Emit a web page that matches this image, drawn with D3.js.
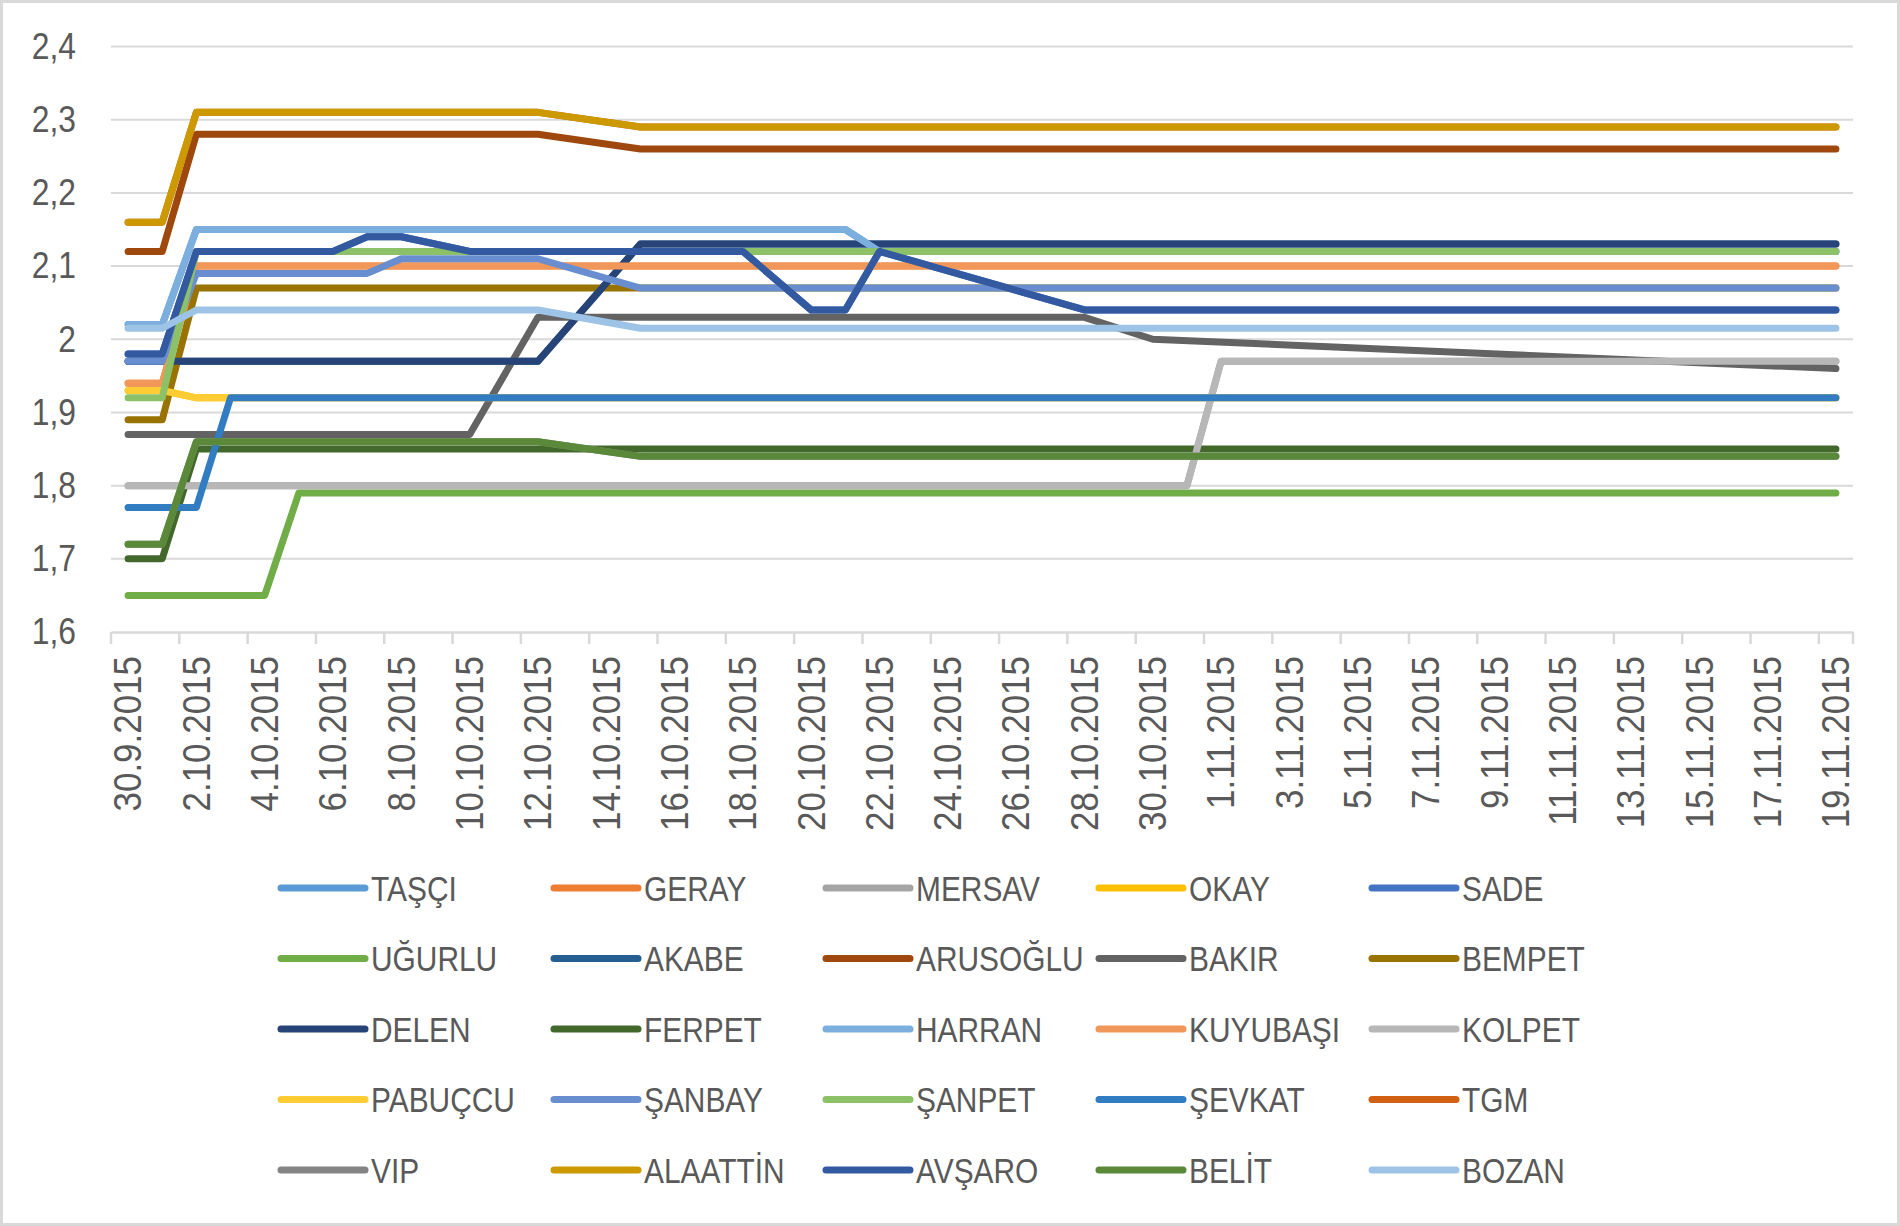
<!DOCTYPE html>
<meta charset="utf-8">
<script src="https://d3js.org/d3.v7.min.js"></script>
<style>
body { margin: 0; background: #fff; }
text { font-family: "Liberation Sans", Arial, sans-serif; fill: #595959; }
</style>
<body>
<div id="chart"></div>
<script>

// categories: one per day, 30.9.2015 .. 19.11.2015
var days = [
  "30.9.2015", "1.10.2015", "2.10.2015", "3.10.2015", "4.10.2015", "5.10.2015", "6.10.2015", "7.10.2015", "8.10.2015", "9.10.2015",
  "10.10.2015", "11.10.2015", "12.10.2015", "13.10.2015", "14.10.2015", "15.10.2015", "16.10.2015", "17.10.2015", "18.10.2015", "19.10.2015",
  "20.10.2015", "21.10.2015", "22.10.2015", "23.10.2015", "24.10.2015", "25.10.2015", "26.10.2015", "27.10.2015", "28.10.2015", "29.10.2015",
  "30.10.2015", "31.10.2015", "1.11.2015", "2.11.2015", "3.11.2015", "4.11.2015", "5.11.2015", "6.11.2015", "7.11.2015", "8.11.2015",
  "9.11.2015", "10.11.2015", "11.11.2015", "12.11.2015", "13.11.2015", "14.11.2015", "15.11.2015", "16.11.2015", "17.11.2015", "18.11.2015", "19.11.2015"
];

var yTicks = [1.6, 1.7, 1.8, 1.9, 2.0, 2.1, 2.2, 2.3, 2.4];
var yLabels = ["1,6", "1,7", "1,8", "1,9", "2", "2,1", "2,2", "2,3", "2,4"];

var names = ["TAŞÇI", "GERAY", "MERSAV", "OKAY", "SADE",
             "UĞURLU", "AKABE", "ARUSOĞLU", "BAKIR", "BEMPET",
             "DELEN", "FERPET", "HARRAN", "KUYUBAŞI", "KOLPET",
             "PABUÇCU", "ŞANBAY", "ŞANPET", "ŞEVKAT", "TGM",
             "VIP", "ALAATTİN", "AVŞARO", "BELİT", "BOZAN"];

var colors = ["#5B9BD5", "#ED7D31", "#A5A5A5", "#FFC000", "#4472C4",
              "#70AD47", "#255E91", "#9E480E", "#636363", "#997300",
              "#264478", "#43682B", "#7CAFDD", "#F1975A", "#B7B7B7",
              "#FFCD33", "#698ED0", "#8CC168", "#327DC2", "#D26012",
              "#848484", "#CC9A00", "#335AA1", "#5A8A39", "#9DC3E6"];

// series values (null = no observation that day)
var tasci = [2.02, 2.02, 2.15, 2.15, 2.15, 2.15, 2.15, 2.15, 2.15, 2.15,
  2.15, 2.15, 2.15, 2.15, 2.15, 2.15, 2.15, 2.15, 2.15, 2.15,
  2.15, 2.15, 2.12, 2.12, 2.12, 2.12, 2.12, 2.12, 2.12, 2.12,
  2.12, 2.12, 2.12, 2.12, 2.12, 2.12, 2.12, 2.12, 2.12, 2.12,
  2.12, 2.12, 2.12, 2.12, 2.12, 2.12, 2.12, 2.12, 2.12, 2.12, 2.12];
var geray = [1.94, 1.94, 2.10, 2.10, 2.10, 2.10, 2.10, 2.10, 2.10, 2.10,
  2.10, 2.10, 2.10, 2.10, 2.10, 2.10, 2.10, 2.10, 2.10, 2.10,
  2.10, 2.10, 2.10, 2.10, 2.10, 2.10, 2.10, 2.10, 2.10, 2.10,
  2.10, 2.10, 2.10, 2.10, 2.10, 2.10, 2.10, 2.10, 2.10, 2.10,
  2.10, 2.10, 2.10, 2.10, 2.10, 2.10, 2.10, 2.10, 2.10, 2.10, 2.10];
var mersav = [1.80, 1.80, 1.80, 1.80, 1.80, 1.80, 1.80, 1.80, 1.80, 1.80,
  1.80, 1.80, 1.80, 1.80, 1.80, 1.80, 1.80, 1.80, 1.80, 1.80,
  1.80, 1.80, 1.80, 1.80, 1.80, 1.80, 1.80, 1.80, 1.80, 1.80,
  1.80, 1.80, 1.97, 1.97, 1.97, 1.97, 1.97, 1.97, 1.97, 1.97,
  1.97, 1.97, 1.97, 1.97, 1.97, 1.97, 1.97, 1.97, 1.97, 1.97, 1.97];
var okay = [1.93, 1.93, 1.92, 1.92, 1.92, 1.92, 1.92, 1.92, 1.92, 1.92,
  1.92, 1.92, 1.92, 1.92, 1.92, 1.92, 1.92, 1.92, 1.92, 1.92,
  1.92, 1.92, 1.92, 1.92, 1.92, 1.92, 1.92, 1.92, 1.92, 1.92,
  1.92, 1.92, 1.92, 1.92, 1.92, 1.92, 1.92, 1.92, 1.92, 1.92,
  1.92, 1.92, 1.92, 1.92, 1.92, 1.92, 1.92, 1.92, 1.92, 1.92, 1.92];
var sade = [1.98, 1.98, 2.12, 2.12, 2.12, 2.12, 2.12, 2.14, 2.14, null,
  2.12, 2.12, 2.12, 2.12, 2.12, 2.12, 2.12, 2.12, 2.12, null,
  2.04, 2.04, 2.12, null, null, null, null, null, 2.04, 2.04,
  2.04, 2.04, 2.04, 2.04, 2.04, 2.04, 2.04, 2.04, 2.04, 2.04,
  2.04, 2.04, 2.04, 2.04, 2.04, 2.04, 2.04, 2.04, 2.04, 2.04, 2.04];
var ugurlu = [1.65, 1.65, 1.65, 1.65, 1.65, 1.79, 1.79, 1.79, 1.79, 1.79,
  1.79, 1.79, 1.79, 1.79, 1.79, 1.79, 1.79, 1.79, 1.79, 1.79,
  1.79, 1.79, 1.79, 1.79, 1.79, 1.79, 1.79, 1.79, 1.79, 1.79,
  1.79, 1.79, 1.79, 1.79, 1.79, 1.79, 1.79, 1.79, 1.79, 1.79,
  1.79, 1.79, 1.79, 1.79, 1.79, 1.79, 1.79, 1.79, 1.79, 1.79, 1.79];
var akabe = [1.97, 1.97, 1.97, 1.97, 1.97, 1.97, 1.97, 1.97, 1.97, 1.97,
  1.97, 1.97, 1.97, null, null, 2.13, 2.13, 2.13, 2.13, 2.13,
  2.13, 2.13, 2.13, 2.13, 2.13, 2.13, 2.13, 2.13, 2.13, 2.13,
  2.13, 2.13, 2.13, 2.13, 2.13, 2.13, 2.13, 2.13, 2.13, 2.13,
  2.13, 2.13, 2.13, 2.13, 2.13, 2.13, 2.13, 2.13, 2.13, 2.13, 2.13];
var arusoglu = [2.12, 2.12, 2.28, 2.28, 2.28, 2.28, 2.28, 2.28, 2.28, 2.28,
  2.28, 2.28, 2.28, null, null, 2.26, 2.26, 2.26, 2.26, 2.26,
  2.26, 2.26, 2.26, 2.26, 2.26, 2.26, 2.26, 2.26, 2.26, 2.26,
  2.26, 2.26, 2.26, 2.26, 2.26, 2.26, 2.26, 2.26, 2.26, 2.26,
  2.26, 2.26, 2.26, 2.26, 2.26, 2.26, 2.26, 2.26, 2.26, 2.26, 2.26];
var bakir = [1.87, 1.87, 1.87, 1.87, 1.87, 1.87, 1.87, 1.87, 1.87, 1.87,
  1.87, null, 2.03, 2.03, 2.03, 2.03, 2.03, 2.03, 2.03, 2.03,
  2.03, 2.03, 2.03, 2.03, 2.03, 2.03, 2.03, 2.03, 2.03, null,
  2.00, null, null, null, null, null, null, null, null, null,
  null, null, null, null, null, null, null, null, null, null, 1.96];
var bempet = [1.89, 1.89, 2.07, 2.07, 2.07, 2.07, 2.07, 2.07, 2.07, 2.07,
  2.07, 2.07, 2.07, 2.07, 2.07, 2.07, 2.07, 2.07, 2.07, 2.07,
  2.07, 2.07, 2.07, 2.07, 2.07, 2.07, 2.07, 2.07, 2.07, 2.07,
  2.07, 2.07, 2.07, 2.07, 2.07, 2.07, 2.07, 2.07, 2.07, 2.07,
  2.07, 2.07, 2.07, 2.07, 2.07, 2.07, 2.07, 2.07, 2.07, 2.07, 2.07];
var delen = [1.97, 1.97, 1.97, 1.97, 1.97, 1.97, 1.97, 1.97, 1.97, 1.97,
  1.97, 1.97, 1.97, null, null, 2.13, 2.13, 2.13, 2.13, 2.13,
  2.13, 2.13, 2.13, 2.13, 2.13, 2.13, 2.13, 2.13, 2.13, 2.13,
  2.13, 2.13, 2.13, 2.13, 2.13, 2.13, 2.13, 2.13, 2.13, 2.13,
  2.13, 2.13, 2.13, 2.13, 2.13, 2.13, 2.13, 2.13, 2.13, 2.13, 2.13];
var ferpet = [1.70, 1.70, 1.85, 1.85, 1.85, 1.85, 1.85, 1.85, 1.85, 1.85,
  1.85, 1.85, 1.85, 1.85, 1.85, 1.85, 1.85, 1.85, 1.85, 1.85,
  1.85, 1.85, 1.85, 1.85, 1.85, 1.85, 1.85, 1.85, 1.85, 1.85,
  1.85, 1.85, 1.85, 1.85, 1.85, 1.85, 1.85, 1.85, 1.85, 1.85,
  1.85, 1.85, 1.85, 1.85, 1.85, 1.85, 1.85, 1.85, 1.85, 1.85, 1.85];
var harran = [2.02, 2.02, 2.15, 2.15, 2.15, 2.15, 2.15, 2.15, 2.15, 2.15,
  2.15, 2.15, 2.15, 2.15, 2.15, 2.15, 2.15, 2.15, 2.15, 2.15,
  2.15, 2.15, 2.12, 2.12, 2.12, 2.12, 2.12, 2.12, 2.12, 2.12,
  2.12, 2.12, 2.12, 2.12, 2.12, 2.12, 2.12, 2.12, 2.12, 2.12,
  2.12, 2.12, 2.12, 2.12, 2.12, 2.12, 2.12, 2.12, 2.12, 2.12, 2.12];
var kuyubasi = [1.94, 1.94, 2.10, 2.10, 2.10, 2.10, 2.10, 2.10, 2.10, 2.10,
  2.10, 2.10, 2.10, 2.10, 2.10, 2.10, 2.10, 2.10, 2.10, 2.10,
  2.10, 2.10, 2.10, 2.10, 2.10, 2.10, 2.10, 2.10, 2.10, 2.10,
  2.10, 2.10, 2.10, 2.10, 2.10, 2.10, 2.10, 2.10, 2.10, 2.10,
  2.10, 2.10, 2.10, 2.10, 2.10, 2.10, 2.10, 2.10, 2.10, 2.10, 2.10];
var kolpet = [1.80, 1.80, 1.80, 1.80, 1.80, 1.80, 1.80, 1.80, 1.80, 1.80,
  1.80, 1.80, 1.80, 1.80, 1.80, 1.80, 1.80, 1.80, 1.80, 1.80,
  1.80, 1.80, 1.80, 1.80, 1.80, 1.80, 1.80, 1.80, 1.80, 1.80,
  1.80, 1.80, 1.97, 1.97, 1.97, 1.97, 1.97, 1.97, 1.97, 1.97,
  1.97, 1.97, 1.97, 1.97, 1.97, 1.97, 1.97, 1.97, 1.97, 1.97, 1.97];
var pabuccu = [1.93, 1.93, 1.92, 1.92, 1.92, 1.92, 1.92, 1.92, 1.92, 1.92,
  1.92, 1.92, 1.92, 1.92, 1.92, 1.92, 1.92, 1.92, 1.92, 1.92,
  1.92, 1.92, 1.92, 1.92, 1.92, 1.92, 1.92, 1.92, 1.92, 1.92,
  1.92, 1.92, 1.92, 1.92, 1.92, 1.92, 1.92, 1.92, 1.92, 1.92,
  1.92, 1.92, 1.92, 1.92, 1.92, 1.92, 1.92, 1.92, 1.92, 1.92, 1.92];
var sanbay = [1.97, 1.97, 2.09, 2.09, 2.09, 2.09, 2.09, 2.09, 2.11, 2.11,
  2.11, 2.11, 2.11, null, null, 2.07, 2.07, 2.07, 2.07, 2.07,
  2.07, 2.07, 2.07, 2.07, 2.07, 2.07, 2.07, 2.07, 2.07, 2.07,
  2.07, 2.07, 2.07, 2.07, 2.07, 2.07, 2.07, 2.07, 2.07, 2.07,
  2.07, 2.07, 2.07, 2.07, 2.07, 2.07, 2.07, 2.07, 2.07, 2.07, 2.07];
var sanpet = [1.92, 1.92, 2.12, 2.12, 2.12, 2.12, 2.12, 2.12, 2.12, 2.12,
  2.12, 2.12, 2.12, 2.12, 2.12, 2.12, 2.12, 2.12, 2.12, 2.12,
  2.12, 2.12, 2.12, 2.12, 2.12, 2.12, 2.12, 2.12, 2.12, 2.12,
  2.12, 2.12, 2.12, 2.12, 2.12, 2.12, 2.12, 2.12, 2.12, 2.12,
  2.12, 2.12, 2.12, 2.12, 2.12, 2.12, 2.12, 2.12, 2.12, 2.12, 2.12];
var sevkat = [1.77, 1.77, 1.77, 1.92, 1.92, 1.92, 1.92, 1.92, 1.92, 1.92,
  1.92, 1.92, 1.92, 1.92, 1.92, 1.92, 1.92, 1.92, 1.92, 1.92,
  1.92, 1.92, 1.92, 1.92, 1.92, 1.92, 1.92, 1.92, 1.92, 1.92,
  1.92, 1.92, 1.92, 1.92, 1.92, 1.92, 1.92, 1.92, 1.92, 1.92,
  1.92, 1.92, 1.92, 1.92, 1.92, 1.92, 1.92, 1.92, 1.92, 1.92, 1.92];
var tgm = [2.16, 2.16, 2.31, 2.31, 2.31, 2.31, 2.31, 2.31, 2.31, 2.31,
  2.31, 2.31, 2.31, null, null, 2.29, 2.29, 2.29, 2.29, 2.29,
  2.29, 2.29, 2.29, 2.29, 2.29, 2.29, 2.29, 2.29, 2.29, 2.29,
  2.29, 2.29, 2.29, 2.29, 2.29, 2.29, 2.29, 2.29, 2.29, 2.29,
  2.29, 2.29, 2.29, 2.29, 2.29, 2.29, 2.29, 2.29, 2.29, 2.29, 2.29];
var vip = [1.72, 1.72, 1.86, 1.86, 1.86, 1.86, 1.86, 1.86, 1.86, 1.86,
  1.86, 1.86, 1.86, null, null, 1.84, 1.84, 1.84, 1.84, 1.84,
  1.84, 1.84, 1.84, 1.84, 1.84, 1.84, 1.84, 1.84, 1.84, 1.84,
  1.84, 1.84, 1.84, 1.84, 1.84, 1.84, 1.84, 1.84, 1.84, 1.84,
  1.84, 1.84, 1.84, 1.84, 1.84, 1.84, 1.84, 1.84, 1.84, 1.84, 1.84];
var alaattin = [2.16, 2.16, 2.31, 2.31, 2.31, 2.31, 2.31, 2.31, 2.31, 2.31,
  2.31, 2.31, 2.31, null, null, 2.29, 2.29, 2.29, 2.29, 2.29,
  2.29, 2.29, 2.29, 2.29, 2.29, 2.29, 2.29, 2.29, 2.29, 2.29,
  2.29, 2.29, 2.29, 2.29, 2.29, 2.29, 2.29, 2.29, 2.29, 2.29,
  2.29, 2.29, 2.29, 2.29, 2.29, 2.29, 2.29, 2.29, 2.29, 2.29, 2.29];
var avsaro = [1.98, 1.98, 2.12, 2.12, 2.12, 2.12, 2.12, 2.14, 2.14, null,
  2.12, 2.12, 2.12, 2.12, 2.12, 2.12, 2.12, 2.12, 2.12, null,
  2.04, 2.04, 2.12, null, null, null, null, null, 2.04, 2.04,
  2.04, 2.04, 2.04, 2.04, 2.04, 2.04, 2.04, 2.04, 2.04, 2.04,
  2.04, 2.04, 2.04, 2.04, 2.04, 2.04, 2.04, 2.04, 2.04, 2.04, 2.04];
var belit = [1.72, 1.72, 1.86, 1.86, 1.86, 1.86, 1.86, 1.86, 1.86, 1.86,
  1.86, 1.86, 1.86, null, null, 1.84, 1.84, 1.84, 1.84, 1.84,
  1.84, 1.84, 1.84, 1.84, 1.84, 1.84, 1.84, 1.84, 1.84, 1.84,
  1.84, 1.84, 1.84, 1.84, 1.84, 1.84, 1.84, 1.84, 1.84, 1.84,
  1.84, 1.84, 1.84, 1.84, 1.84, 1.84, 1.84, 1.84, 1.84, 1.84, 1.84];
var bozan = [2.015, 2.015, 2.04, 2.04, 2.04, 2.04, 2.04, 2.04, 2.04, 2.04,
  2.04, 2.04, 2.04, null, null, 2.015, 2.015, 2.015, 2.015, 2.015,
  2.015, 2.015, 2.015, 2.015, 2.015, 2.015, 2.015, 2.015, 2.015, 2.015,
  2.015, 2.015, 2.015, 2.015, 2.015, 2.015, 2.015, 2.015, 2.015, 2.015,
  2.015, 2.015, 2.015, 2.015, 2.015, 2.015, 2.015, 2.015, 2.015, 2.015, 2.015];

var values = [tasci, geray, mersav, okay, sade,
              ugurlu, akabe, arusoglu, bakir, bempet,
              delen, ferpet, harran, kuyubasi, kolpet,
              pabuccu, sanbay, sanpet, sevkat, tgm,
              vip, alaattin, avsaro, belit, bozan];

var series = names.map(function(n, i) {
  return {name: n, color: colors[i], values: values[i]};
});

var width = 1900, height = 1226;
var plot = {left: 111, right: 1853, top: 46.5, bottom: 632};
// the reference font is narrower than Liberation Sans, so text is squeezed horizontally
var squeeze = 0.83;

var svg = d3.select("#chart")
  .append("svg")
  .attr("width", width)
  .attr("height", height);

svg.append("rect")
  .attr("x", 1.5).attr("y", 1.5)
  .attr("width", width - 3).attr("height", height - 3)
  .attr("fill", "#fff")
  .attr("stroke", "#d9d9d9")
  .attr("stroke-width", 3);

var x = d3.scaleBand()
  .domain(days)
  .range([plot.left, plot.right]);

var y = d3.scaleLinear()
  .domain([1.6, 2.4])
  .range([plot.bottom, plot.top]);

// gridlines
svg.append("g")
  .selectAll("line")
  .data(yTicks.slice(1))
  .enter()
  .append("line")
    .attr("x1", plot.left)
    .attr("x2", plot.right)
    .attr("y1", function(d) { return y(d); })
    .attr("y2", function(d) { return y(d); })
    .attr("stroke", "#d9d9d9")
    .attr("stroke-width", 2);

// y axis labels
var yAxis = svg.append("g")
  .attr("transform", "translate(" + plot.left + ",0)")
  .call(d3.axisLeft(y)
    .tickValues(yTicks)
    .tickFormat(function(d, i) { return yLabels[i]; })
    .tickSize(0));
yAxis.select(".domain").remove();
yAxis.selectAll("text")
  .style("font-size", "37px")
  .attr("fill", "#595959")
  .attr("x", -35 / 0.86)
  .attr("transform", "scale(0.86,1)");

// x axis
var xScale = 0.92;
var xAxis = svg.append("g")
  .attr("transform", "translate(0," + plot.bottom + ")")
  .call(d3.axisBottom(x)
    .tickValues(days.filter(function(d, i) { return i % 2 === 0; }))
    .tickSize(0));
xAxis.select(".domain")
  .attr("stroke", "#d9d9d9")
  .attr("stroke-width", 2.5);
xAxis.selectAll("text")
  .style("font-size", "38px")
  .attr("fill", "#595959")
  .attr("transform", "rotate(-90) scale(" + xScale + ",1)")
  .attr("text-anchor", "end")
  .attr("x", -24 / xScale)
  .attr("y", 0)
  .attr("dy", "0.35em");

// tick marks between every second category
var tickPos = days.filter(function(d, i) { return i % 2 === 0; }).map(function(d) { return x(d); });
tickPos.push(plot.right);
xAxis.selectAll(".tickmark")
  .data(tickPos)
  .enter()
  .append("line")
    .attr("class", "tickmark")
    .attr("x1", function(d) { return d; })
    .attr("x2", function(d) { return d; })
    .attr("y1", 0)
    .attr("y2", 12)
    .attr("stroke", "#d9d9d9")
    .attr("stroke-width", 2.5);

// lines
var line = d3.line()
  .x(function(p) { return x(days[p.i]) + x.bandwidth() / 2; })
  .y(function(p) { return y(p.v); });

svg.append("g")
  .selectAll("path")
  .data(series)
  .enter()
  .append("path")
    .attr("fill", "none")
    .attr("stroke", function(d) { return d.color; })
    .attr("stroke-width", 7)
    .attr("stroke-linejoin", "round")
    .attr("stroke-linecap", "round")
    .attr("d", function(d) {
      var pts = d.values
        .map(function(v, i) { return {i: i, v: v}; })
        .filter(function(p) { return p.v !== null; });
      return line(pts);
    });

// legend, 5 columns
var legendX = [281, 554, 826, 1099, 1372];
var legendY = [888, 958.5, 1029, 1099.5, 1170];

var legend = svg.append("g")
  .selectAll("g")
  .data(series)
  .enter()
  .append("g")
    .attr("transform", function(d, i) {
      return "translate(" + legendX[i % 5] + "," + legendY[Math.floor(i / 5)] + ")";
    });

legend.append("line")
  .attr("x1", 0).attr("x2", 84)
  .attr("y1", 0).attr("y2", 0)
  .attr("stroke", function(d) { return d.color; })
  .attr("stroke-width", 7)
  .attr("stroke-linecap", "round");

legend.append("text")
  .attr("transform", "translate(90,0) scale(" + squeeze + ",1)")
  .attr("dy", "0.35em")
  .style("font-size", "36px")
  .text(function(d) { return d.name; });

</script>
</body>
